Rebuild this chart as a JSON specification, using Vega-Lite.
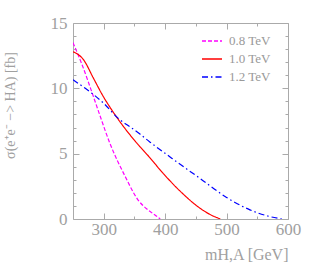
{
  "$schema": "https://vega.github.io/schema/vega-lite/v6.json",
  "width": 215,
  "height": 196,
  "autosize": {"type": "none"},
  "padding": {"left": 73, "top": 23, "right": 26, "bottom": 47},
  "background": "white",
  "config": {
    "view": {"stroke": null},
    "font": "Liberation Serif",
    "axis": {
      "domainColor": "#aaaaaa",
      "tickColor": "#aaaaaa",
      "labelColor": "#a0a0a0",
      "titleColor": "#a0a0a0",
      "labelFont": "Liberation Serif",
      "titleFont": "Liberation Serif",
      "labelFontSize": 17,
      "titleFontSize": 16,
      "titleFontWeight": "normal",
      "grid": false,
      "labelOverlap": false,
      "labelFlush": false
    }
  },
  "data": {
    "values": [
      {"m": 250, "s": 13.5, "E": "0.8 TeV"},
      {"m": 264, "s": 11.9, "E": "0.8 TeV"},
      {"m": 283, "s": 9.4, "E": "0.8 TeV"},
      {"m": 294, "s": 7.9, "E": "0.8 TeV"},
      {"m": 310, "s": 5.8, "E": "0.8 TeV"},
      {"m": 335, "s": 3.25, "E": "0.8 TeV"},
      {"m": 356, "s": 1.45, "E": "0.8 TeV"},
      {"m": 372, "s": 0.7, "E": "0.8 TeV"},
      {"m": 385, "s": 0.25, "E": "0.8 TeV"},
      {"m": 392, "s": 0, "E": "0.8 TeV"},
      {"m": 250, "s": 12.8, "E": "1.0 TeV"},
      {"m": 267, "s": 12.2, "E": "1.0 TeV"},
      {"m": 283, "s": 10.8, "E": "1.0 TeV"},
      {"m": 299, "s": 9.4, "E": "1.0 TeV"},
      {"m": 313, "s": 8.35, "E": "1.0 TeV"},
      {"m": 324, "s": 7.6, "E": "1.0 TeV"},
      {"m": 354, "s": 5.8, "E": "1.0 TeV"},
      {"m": 375, "s": 4.7, "E": "1.0 TeV"},
      {"m": 392, "s": 3.75, "E": "1.0 TeV"},
      {"m": 424, "s": 2.15, "E": "1.0 TeV"},
      {"m": 457, "s": 0.82, "E": "1.0 TeV"},
      {"m": 475, "s": 0.3, "E": "1.0 TeV"},
      {"m": 490, "s": 0, "E": "1.0 TeV"},
      {"m": 250, "s": 10.65, "E": "1.2 TeV"},
      {"m": 270, "s": 10.0, "E": "1.2 TeV"},
      {"m": 299, "s": 8.9, "E": "1.2 TeV"},
      {"m": 325, "s": 7.65, "E": "1.2 TeV"},
      {"m": 343, "s": 7.05, "E": "1.2 TeV"},
      {"m": 359, "s": 6.5, "E": "1.2 TeV"},
      {"m": 375, "s": 5.9, "E": "1.2 TeV"},
      {"m": 408, "s": 4.75, "E": "1.2 TeV"},
      {"m": 421, "s": 4.3, "E": "1.2 TeV"},
      {"m": 457, "s": 3.1, "E": "1.2 TeV"},
      {"m": 500, "s": 1.65, "E": "1.2 TeV"},
      {"m": 538, "s": 0.7, "E": "1.2 TeV"},
      {"m": 571, "s": 0.18, "E": "1.2 TeV"},
      {"m": 590, "s": 0, "E": "1.2 TeV"}
    ]
  },
  "layer": [
    {
      "mark": {"type": "line", "strokeWidth": 1.2, "interpolate": "monotone", "clip": true},
      "encoding": {
        "x": {
          "field": "m", "type": "quantitative",
          "scale": {"domain": [250, 600], "nice": false, "zero": false},
          "axis": {
            "orient": "bottom",
            "values": [300, 350, 400, 450, 500, 550, 600],
            "labelExpr": "datum.value % 100 === 0 ? datum.label : ''",
            "tickSize": {"condition": {"test": "datum.value % 100 === 0", "value": -6}, "value": -3},
            "labelPadding": 8,
            "title": "mH,A [GeV]",
            "titleAnchor": "end",
            "titlePadding": 6
          }
        },
        "y": {
          "field": "s", "type": "quantitative",
          "scale": {"domain": [0, 15], "nice": false},
          "axis": {
            "orient": "left",
            "values": [0, 1, 2, 3, 4, 5, 6, 7, 8, 9, 10, 11, 12, 13, 14, 15],
            "labelExpr": "datum.value % 5 === 0 ? datum.label : ''",
            "tickSize": {"condition": {"test": "datum.value % 5 === 0", "value": -6}, "value": -3},
            "labelPadding": 12,
            "title": "σ(e⁺e⁻ −> HA) [fb]",
            "titleFontSize": 14,
            "titleX": -56,
            "titleY": 82
          }
        },
        "color": {
          "field": "E", "type": "nominal",
          "scale": {"domain": ["0.8 TeV", "1.0 TeV", "1.2 TeV"], "range": ["#ff00ff", "#ff0000", "#0000ff"]},
          "legend": {
            "title": null,
            "orient": "none",
            "legendX": 128,
            "legendY": 7,
            "symbolType": "stroke",
            "symbolSize": 400,
            "symbolStrokeWidth": 1.5,
            "labelFont": "Liberation Serif",
            "labelFontSize": 13,
            "labelColor": "#999999",
            "rowPadding": -8,
            "padding": 0,
            "labelOffset": 6
          }
        },
        "strokeDash": {
          "field": "E", "type": "nominal",
          "scale": {"domain": ["0.8 TeV", "1.0 TeV", "1.2 TeV"], "range": [[4, 2], [1, 0], [6, 3, 1.5, 3]]},
          "legend": {
            "title": null,
            "orient": "none",
            "legendX": 128,
            "legendY": 7,
            "symbolType": "stroke",
            "symbolSize": 400,
            "symbolStrokeWidth": 1.5,
            "labelFont": "Liberation Serif",
            "labelFontSize": 13,
            "labelColor": "#999999",
            "rowPadding": -8,
            "padding": 0,
            "labelOffset": 6
          }
        }
      }
    },
    {
      "mark": {"type": "point", "opacity": 0},
      "encoding": {
        "x": {
          "field": "m", "type": "quantitative",
          "axis": {
            "orient": "top",
            "values": [300, 350, 400, 450, 500, 550, 600],
            "labels": false,
            "title": null,
            "tickSize": {"condition": {"test": "datum.value % 100 === 0", "value": -6}, "value": -3}
          }
        },
        "y": {
          "field": "s", "type": "quantitative",
          "axis": {
            "orient": "right",
            "values": [0, 1, 2, 3, 4, 5, 6, 7, 8, 9, 10, 11, 12, 13, 14, 15],
            "labels": false,
            "title": null,
            "tickSize": {"condition": {"test": "datum.value % 5 === 0", "value": -6}, "value": -3}
          }
        }
      }
    }
  ],
  "resolve": {"axis": {"x": "independent", "y": "independent"}}
}
